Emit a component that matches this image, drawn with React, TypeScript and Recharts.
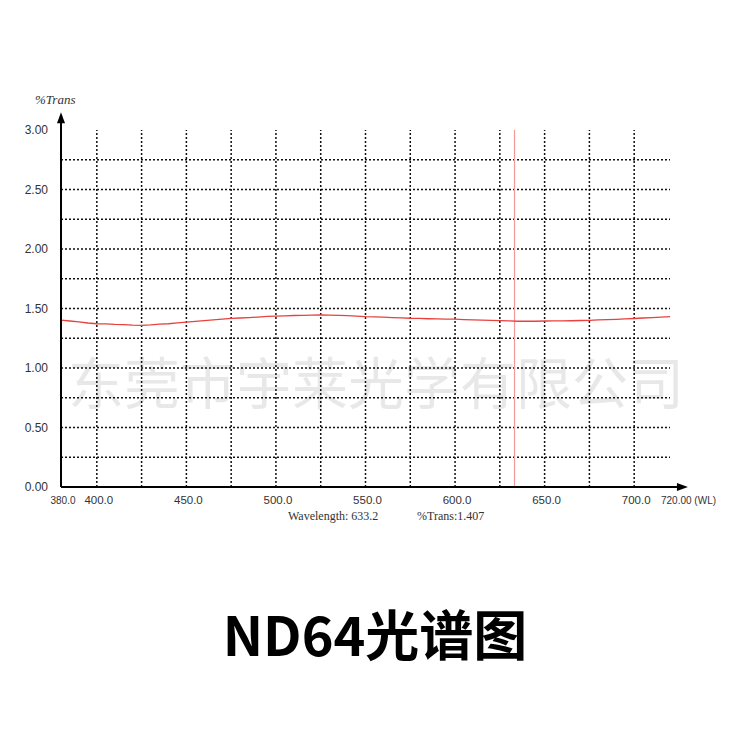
import React from 'react';
import { LineChart, Line, XAxis, YAxis, ReferenceLine, ReferenceDot } from 'recharts';

const wavelengths = [
  380, 385, 390, 395, 400, 405, 410, 415, 420, 425, 430, 435, 440, 445, 450, 455, 460, 465, 470, 475,
  480, 485, 490, 495, 500, 505, 510, 515, 520, 525, 530, 535, 540, 545, 550, 555, 560, 565, 570, 575,
  580, 585, 590, 595, 600, 605, 610, 615, 620, 625, 630, 635, 640, 645, 650, 655, 660, 665, 670, 675,
  680, 685, 690, 695, 700, 705, 710, 715, 720,
];
const transValues = [
  1.402, 1.395, 1.388, 1.378, 1.372, 1.37, 1.366, 1.364, 1.36, 1.358, 1.362, 1.368, 1.372, 1.379, 1.386,
  1.392, 1.398, 1.404, 1.41, 1.417, 1.42, 1.424, 1.428, 1.433, 1.436, 1.438, 1.441, 1.443, 1.445, 1.446,
  1.444, 1.442, 1.44, 1.436, 1.432, 1.43, 1.428, 1.424, 1.421, 1.418, 1.417, 1.414, 1.412, 1.411, 1.41,
  1.407, 1.405, 1.403, 1.4, 1.398, 1.396, 1.393, 1.394, 1.393, 1.395, 1.396, 1.396, 1.397, 1.399, 1.401,
  1.404, 1.406, 1.409, 1.412, 1.416, 1.42, 1.424, 1.428, 1.431,
];
const xTicks = [380, 400, 450, 500, 550, 600, 650, 700, 720];
const yTicks = [0, 0.5, 1, 1.5, 2, 2.5, 3];
const xGrid = [400, 425, 450, 475, 500, 525, 550, 575, 600, 625, 650, 675, 700];
const yGrid = [0.25, 0.5, 0.75, 1, 1.25, 1.5, 1.75, 2, 2.25, 2.5, 2.75];
const cursorWl = 633.2;
const cursorTrans = 1.407;
const xArrowEnd = 730;
const yArrowEnd = 3.15;

const data = wavelengths.map((wl, i) => ({ wl, t: transValues[i] }));

const labelFont = '"Liberation Sans", Arial, sans-serif';

const XTick = (props: any) => {
  const { x, y, payload } = props;
  const v = payload.value;
  if (v === 720) {
    return (
      <text x={x - 9} y={y + 9} fontSize={10} fill="#333" fontFamily={labelFont}>
        720.00 (WL)
      </text>
    );
  }
  return (
    <text x={x + 2} y={y + 9} textAnchor="middle" fontSize={v === 380 ? 10 : 11.5} fill="#333" fontFamily={labelFont}>
      {v.toFixed(1)}
    </text>
  );
};

const YTick = (props: any) => {
  const { x, y, payload } = props;
  return (
    <text x={x - 5} y={y + 4} textAnchor="end" fontSize={12} fill="#333" fontFamily={labelFont}>
      {payload.value.toFixed(2)}
    </text>
  );
};

const RightArrow = (props: any) => (
  <path d={`M${props.cx},${props.cy} L${props.cx - 11},${props.cy - 4} L${props.cx - 11},${props.cy + 4} Z`} fill="#000" />
);
const UpArrow = (props: any) => (
  <path d={`M${props.cx},${props.cy} L${props.cx - 4},${props.cy + 11} L${props.cx + 4},${props.cy + 11} Z`} fill="#000" />
);

const App: React.FC = () => {
  return (
    <div style={{ position: 'absolute', left: 0, top: 0, width: 750, height: 750, background: '#fff', overflow: 'hidden' }}>
      <div
        style={{
          position: 'absolute', left: 68, top: 352, fontSize: 56, lineHeight: 1, color: '#e8e8e8',
          fontFamily: '"Noto Sans CJK SC", sans-serif', whiteSpace: 'nowrap',
        }}
      >
        东莞市宇莱光学有限公司
      </div>
      <div style={{ position: 'absolute', left: 0, top: 0 }}>
        <LineChart width={750} height={750} data={data} margin={{ top: 130, right: 80, bottom: 233, left: 11 }}>
          <XAxis
            dataKey="wl" type="number" domain={[380, 720]} ticks={xTicks} height={30}
            axisLine={false} tickLine={false} tick={<XTick />} interval={0}
          />
          <YAxis
            type="number" domain={[0, 3]} ticks={yTicks} width={50}
            axisLine={false} tickLine={false} tick={<YTick />} interval={0}
          />
          {yGrid.map((v) => (
            <ReferenceLine key={`h${v}`} y={v} stroke="#111" strokeWidth={1.5} strokeDasharray="2 2" />
          ))}
          {xGrid.map((v) => (
            <ReferenceLine key={`v${v}`} x={v} stroke="#111" strokeWidth={1.5} strokeDasharray="2 2" />
          ))}
          <ReferenceLine x={cursorWl} stroke="#f29a9a" strokeWidth={1.2} />
          <Line type="linear" dataKey="t" stroke="#e8413e" strokeWidth={1.3} dot={false} isAnimationActive={false} />
          <ReferenceLine segment={[{ x: 380, y: 0 }, { x: xArrowEnd - 3, y: 0 }]} stroke="#000" strokeWidth={2} ifOverflow="visible" />
          <ReferenceLine segment={[{ x: 380, y: 0 }, { x: 380, y: yArrowEnd - 0.03 }]} stroke="#000" strokeWidth={2} ifOverflow="visible" />
          <ReferenceDot x={xArrowEnd} y={0} ifOverflow="visible" shape={<RightArrow />} />
          <ReferenceDot x={380} y={yArrowEnd} ifOverflow="visible" shape={<UpArrow />} />
        </LineChart>
      </div>
      <div style={{ position: 'absolute', left: 35, top: 92, fontSize: 13, fontStyle: 'italic', fontFamily: '"Liberation Serif", serif', color: '#333' }}>
        %Trans
      </div>
      <div style={{ position: 'absolute', left: 288, top: 509, fontSize: 12, fontFamily: '"Liberation Serif", serif', color: '#333', whiteSpace: 'nowrap' }}>
        Wavelength: {cursorWl.toFixed(1)}
      </div>
      <div style={{ position: 'absolute', left: 417, top: 509, fontSize: 12, fontFamily: '"Liberation Serif", serif', color: '#333', whiteSpace: 'nowrap' }}>
        %Trans:{cursorTrans.toFixed(3)}
      </div>
      <div
        style={{
          position: 'absolute', left: 0, width: 750, top: 606, textAlign: 'center', fontSize: 54, lineHeight: 1,
          fontWeight: 700, fontFamily: '"Noto Sans CJK SC", sans-serif', color: '#000',
        }}
      >
        ND64光谱图
      </div>
    </div>
  );
};

export default App;
